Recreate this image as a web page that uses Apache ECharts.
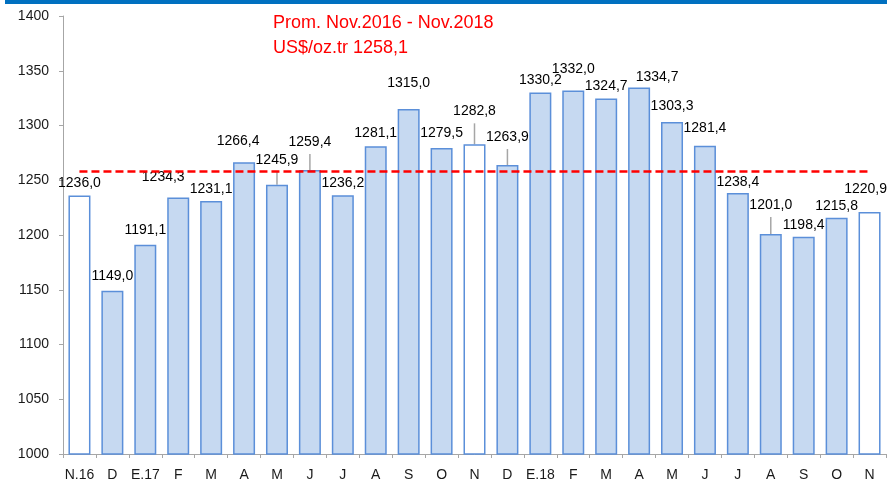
<!DOCTYPE html>
<html>
<head>
<meta charset="utf-8">
<script src="https://cdn.jsdelivr.net/npm/echarts@6/dist/echarts.min.js"></script>
<style>
  html, body { margin: 0; padding: 0; background: #fff; }
  #chart { width: 887px; height: 482px; }
</style>
</head>
<body>
<div id="chart"></div>
<script>
// precio del oro, promedio mensual
var categories = ['N.16','D','E.17','F','M','A','M','J','J','A','S','O','N','D','E.18','F','M','A','M','J','J','A','S','O','N'];
var prices = [1236.0, 1149.0, 1191.1, 1234.3, 1231.1, 1266.4, 1245.9, 1259.4, 1236.2, 1281.1, 1315.0, 1279.5, 1282.8,
              1263.9, 1330.2, 1332.0, 1324.7, 1334.7, 1303.3, 1281.4, 1238.4, 1201.0, 1198.4, 1215.8, 1220.9];
var average = 1258.1;
var yTicks = [1000, 1050, 1100, 1150, 1200, 1250, 1300, 1350, 1400];
var hollowBars = [0, 12, 24];      // meses de noviembre, sin relleno
var leaderBars = [6, 7, 12, 13, 21];

// desplazamiento manual de etiquetas (px)
var labelDx = [0,0,0,-15,0,-6,0,0,0,0,0,0,0,0,0,0,0,18,0,0,0,0,0,0,-4];
var labelDy = [0,-3,-3,-8,0,-9,-13,-16,0,-1,-14,-3,-21,-16,0,-9,0,2,-4,-6,1,-17,0,0,-11];

function fmt(v) {
    return v.toFixed(1).replace('.', ',');
}

var chart = echarts.init(document.getElementById('chart'));

var barData = prices.map(function (v, i) {
    var item = { value: v, label: { offset: [labelDx[i], labelDy[i]] } };
    if (hollowBars.indexOf(i) >= 0) {
        item.itemStyle = { color: '#ffffff' };
    }
    return item;
});

var option = {
    animation: false,
    textStyle: { fontFamily: 'Liberation Sans' },
    graphic: [{
        type: 'rect',
        shape: { x: 5, y: 0, width: 882, height: 4 },
        style: { fill: '#0070c0' }
    }, {
        type: 'text',
        left: 273,
        top: 11,
        style: {
            text: 'Prom. Nov.2016 - Nov.2018\nUS$/oz.tr ' + fmt(average),
            fill: '#ff0000',
            font: '18px "Liberation Sans"',
            lineHeight: 25
        }
    }],
    grid: { left: 63, right: 1, top: 16, bottom: 28, containLabel: false },
    xAxis: {
        type: 'category',
        data: categories,
        axisLine: { lineStyle: { color: '#a6a6a6', width: 1 } },
        axisTick: { show: true, length: 4, lineStyle: { color: '#a6a6a6' } },
        axisLabel: { color: '#1a1a1a', fontSize: 14, margin: 14, interval: 0 }
    },
    yAxis: {
        type: 'value',
        min: yTicks[0],
        max: yTicks[yTicks.length - 1],
        interval: yTicks[1] - yTicks[0],
        splitLine: { show: false },
        axisLine: { show: true, lineStyle: { color: '#a6a6a6', width: 1 } },
        axisTick: { show: true, length: 4, lineStyle: { color: '#a6a6a6' } },
        axisLabel: {
            color: '#1a1a1a', fontSize: 14, margin: 14,
            formatter: function (v) { return String(v); }
        }
    },
    series: [{
        type: 'bar',
        data: barData,
        barWidth: 22,
        itemStyle: { color: '#c6d9f1', borderColor: '#5b8fd9', borderWidth: 1.5 },
        label: {
            show: true,
            position: 'top',
            distance: 5,
            color: '#000',
            fontSize: 14,
            formatter: function (p) { return fmt(p.value); }
        },
        markLine: {
            silent: true,
            symbol: 'none',
            label: { show: false },
            lineStyle: { color: '#ff0000', type: [8, 4], width: 2.5 },
            data: [[{ coord: [0, average] }, { coord: [categories.length - 1, average] }]]
        }
    }, {
        // lineas guia de las etiquetas desplazadas
        type: 'custom',
        silent: true,
        z: 1,
        data: leaderBars.map(function (i) { return [i, prices[i], labelDy[i]]; }),
        renderItem: function (params, api) {
            var p = api.coord([api.value(0), api.value(1)]);
            return {
                type: 'line',
                shape: { x1: p[0], y1: p[1], x2: p[0], y2: p[1] + api.value(2) },
                style: { stroke: '#a6a6a6', lineWidth: 1.5 }
            };
        }
    }]
};
chart.setOption(option);
</script>
</body>
</html>
